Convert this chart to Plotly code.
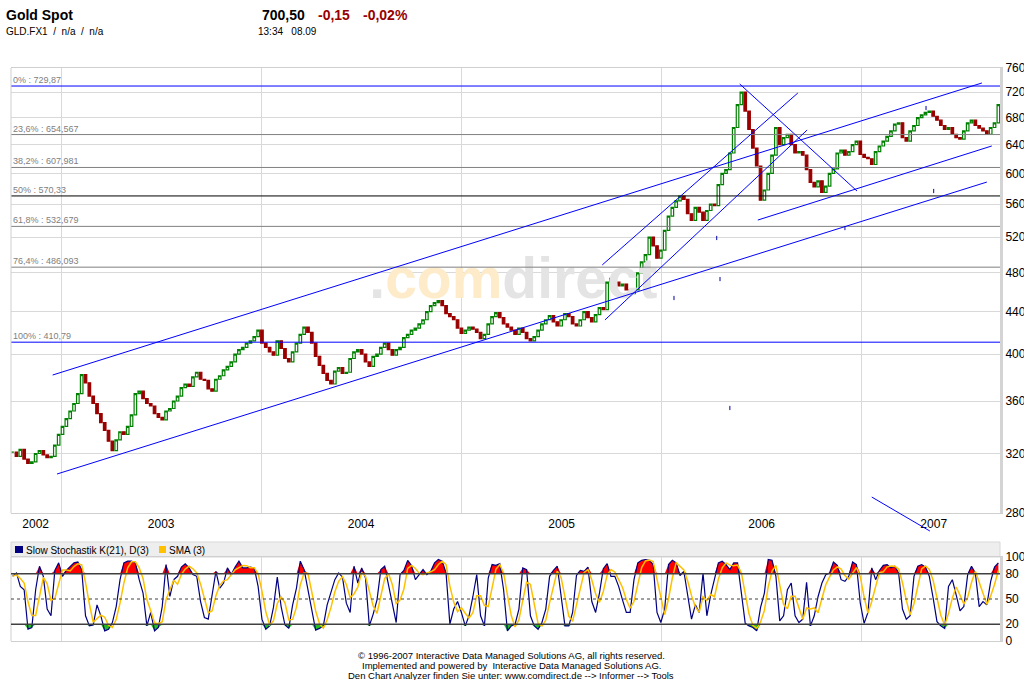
import numpy as np
import pandas as pd
import plotly.graph_objects as go

# ---------------- data ----------------
first_week = "2002-10-04"
closes = [
    321, 318, 323, 316, 313, 314, 320, 322, 319, 317,
    318, 326, 334, 340, 346, 352, 358, 366, 382, 375,
    364, 358, 350, 343, 337, 329, 322, 330, 336, 334,
    340, 349, 366, 368, 362, 358, 356, 350, 347, 345,
    352, 354, 360, 364, 371, 374, 372, 380, 384, 378,
    377, 370, 368, 378, 381, 386, 389, 393, 400, 404,
    406, 410, 412, 416, 422, 410, 406, 402, 399, 412,
    405, 396, 393, 402, 410, 418, 425, 420, 410, 398,
    390, 383, 377, 374, 385, 388, 383, 384, 396, 402,
    404, 400, 393, 389, 398, 400, 406, 410, 404, 399,
    404, 406, 415, 418, 422, 424, 428, 432, 440, 446,
    449, 451, 446, 438, 435, 432, 424, 419, 422, 425,
    423, 420, 414, 418, 428, 435, 439, 434, 428, 425,
    422, 418, 424, 420, 414, 412, 416, 422, 428, 432,
    436, 430, 426, 432, 438, 435, 428, 426, 432, 440,
    434, 430, 437, 444, 442, 470, 474, 470, 466, 468,
    462, 458, 462, 480, 492, 500, 520, 510, 496, 505,
    528, 545, 556, 564, 570, 566, 548, 540, 556, 550,
    540, 552, 560, 558, 585, 600, 605, 628, 665, 700,
    720, 690, 662, 635, 610, 565, 578, 600, 625, 665,
    640, 650, 655, 640, 628, 630, 625, 605, 588, 582,
    590, 575, 583, 600, 606, 628, 632, 625, 630, 640,
    645, 626, 622, 620, 612, 630, 638, 645, 652, 660,
    670, 672, 650, 645, 660, 668, 680, 684, 688, 690,
    682, 676, 668, 662, 665, 655, 650, 648, 660, 672,
    676, 668, 664, 660, 655, 665, 672, 700,
]
stoch_k = [
    77, 81, 65, 61, 14, 16, 61, 89, 77, 38,
    30, 84, 93, 77, 84, 89, 93, 94, 85, 30,
    18, 19, 43, 30, 12, 14, 22, 41, 73, 93,
    95, 95, 93, 73, 57, 18, 34, 12, 16, 41,
    91, 53, 73, 77, 88, 92, 87, 79, 77, 47,
    28, 26, 53, 83, 63, 69, 87, 79, 88, 95,
    87, 87, 88, 87, 65, 26, 14, 18, 40, 76,
    41, 19, 15, 43, 63, 95, 85, 61, 34, 13,
    15, 18, 43, 59, 73, 81, 76, 45, 34, 89,
    69, 87, 75, 18, 32, 49, 85, 89, 67, 45,
    22, 79, 84, 96, 90, 73, 79, 85, 79, 83,
    93, 97, 95, 81, 20, 38, 47, 34, 18, 30,
    53, 79, 30, 18, 75, 91, 90, 92, 61, 12,
    18, 20, 38, 87, 85, 30, 18, 14, 22, 38,
    77, 84, 89, 53, 18, 18, 34, 78, 84, 83,
    88, 47, 34, 57, 86, 92, 77, 77, 65, 49,
    34, 34, 73, 93, 96, 97, 96, 91, 34, 22,
    38, 91, 96, 93, 78, 83, 53, 26, 43, 34,
    81, 30, 55, 73, 93, 95, 91, 85, 93, 93,
    57, 21, 18, 16, 12, 40, 57, 97, 96, 77,
    24, 30, 61, 69, 30, 22, 26, 70, 18, 30,
    53, 69, 79, 81, 94, 90, 73, 71, 77, 94,
    91, 45, 21, 34, 87, 73, 84, 90, 91, 87,
    89, 81, 38, 26, 30, 77, 89, 91, 88, 77,
    51, 23, 18, 15, 65, 73, 55, 36, 41, 79,
    89, 81, 41, 47, 43, 71, 88, 93,
]
fib_levels = [729.87, 654.567, 607.981, 570.33, 532.679, 486.093, 410.79]
fib_texts = ["0% : 729,87", "23,6% : 654,567", "38,2% : 607,981", "50% : 570,33",
             "61,8% : 532,679", "76,4% : 486,093", "100% : 410,79"]
trend_start_dates = ["2002-12-16", "2002-12-24", "2005-09-14", "2005-09-19", "2006-05-23", "2006-06-25"]
trend_start_prices = [381.6, 305.6, 488.5, 431.8, 733.2, 540.3]
trend_end_dates = ["2007-08-08", "2007-08-17", "2006-09-06", "2006-09-23", "2006-12-23", "2007-08-26"]
trend_end_prices = [734.9, 588.4, 718.5, 661.3, 576.7, 638.0]
outside_line_dates = ["2007-01-19", "2007-05-05"]
outside_line_prices = [290.2, 268.9]
stray_dates = ["2006-04-11", "2006-04-17", "2006-01-23", "2006-05-05", "2007-05-12", "2006-12-01", "2007-04-28"]
stray_prices = [519.0, 473.3, 453.6, 354.4, 576.7, 530.7, 694.7]
price_ticks = [280, 320, 360, 400, 440, 480, 520, 560, 600, 640, 680, 720, 760]
stoch_ticks = [0, 20, 50, 80, 100]
year_labels = ["2002", "2003", "2004", "2005", "2006", "2007"]
year_label_dates = ["2002-11-15", "2003-07-02", "2004-07-01", "2005-07-02", "2006-07-02", "2007-05-12"]
year_starts = ["2003-01-01", "2004-01-01", "2005-01-01", "2006-01-01", "2007-01-01"]
x_range = ["2002-10-01", "2007-09-10"]
y_range = [280, 760]
watermark_date = "2005-04-05"
watermark_price = 468

# ---------------- derived ----------------
dates = pd.date_range(first_week, periods=len(closes), freq="7D")
close_arr = np.array(closes, dtype=float)
open_arr = np.concatenate([[close_arr[0]], close_arr[:-1]])
high_arr = np.maximum(open_arr, close_arr)
low_arr = np.minimum(open_arr, close_arr)
k_arr = np.array(stoch_k, dtype=float)
d_arr = pd.Series(k_arr).rolling(3, min_periods=1).mean().values

FONT = "Liberation Sans, Arial, sans-serif"
L, R, T, B = 11, 1000, 68, 641


def px_x(px):
    return (px - L) / (R - L)


def px_y(py):
    return (B - py) / (B - T)


main_dom = [px_y(513), 1.0]
stoch_dom = [0.0, px_y(557)]


def price_to_paper(p):
    lo, hi = np.log10(y_range[0]), np.log10(y_range[1])
    return main_dom[0] + (np.log10(p) - lo) / (hi - lo) * (main_dom[1] - main_dom[0])


fig = go.Figure()

# watermark (below candles)
fig.add_trace(go.Scatter(
    x=[watermark_date], y=[watermark_price], mode="text",
    text=['<b><span style="color:#e4e4e4">.</span><span style="color:#fdebc9">com</span>'
          '<span style="color:#e4e4e4">direct</span></b>'],
    textfont=dict(size=57, family=FONT), textposition="middle center",
    hoverinfo="skip", showlegend=False, xaxis="x", yaxis="y"))

# fibonacci levels
fib_colors = ["#0000ff", "#808080", "#808080", "#000000", "#808080", "#808080", "#0000ff"]
for lvl, col in zip(fib_levels, fib_colors):
    fig.add_trace(go.Scatter(x=x_range, y=[lvl, lvl], mode="lines",
                             line=dict(color=col, width=1), hoverinfo="skip",
                             showlegend=False, xaxis="x", yaxis="y"))

# candles
fig.add_trace(go.Candlestick(
    x=dates, open=open_arr, high=high_arr, low=low_arr, close=close_arr,
    increasing=dict(line=dict(color="#008000", width=1.2), fillcolor="#ffffff"),
    decreasing=dict(line=dict(color="#990000", width=1.2), fillcolor="#990000"),
    whiskerwidth=0, showlegend=False, hoverinfo="skip", xaxis="x", yaxis="y"))

# trend lines
for xs, ys, xe, ye in zip(trend_start_dates, trend_start_prices, trend_end_dates, trend_end_prices):
    fig.add_trace(go.Scatter(x=[xs, xe], y=[ys, ye], mode="lines",
                             line=dict(color="#0000ff", width=1), hoverinfo="skip",
                             showlegend=False, xaxis="x", yaxis="y"))

fig.add_trace(go.Scatter(x=stray_dates, y=stray_prices, mode="markers",
                         marker=dict(symbol="line-ns", size=3, line=dict(color="#0000aa", width=1)),
                         hoverinfo="skip", showlegend=False, xaxis="x", yaxis="y"))

# stochastic panel
fig.add_trace(go.Scatter(x=dates, y=np.full(len(k_arr), 80.0), mode="lines", line=dict(width=0),
                         hoverinfo="skip", showlegend=False, xaxis="x2", yaxis="y2"))
fig.add_trace(go.Scatter(x=dates, y=np.maximum(k_arr, 80), mode="lines", line=dict(width=0),
                         fill="tonexty", fillcolor="#ff0000",
                         hoverinfo="skip", showlegend=False, xaxis="x2", yaxis="y2"))
fig.add_trace(go.Scatter(x=dates, y=np.full(len(k_arr), 20.0), mode="lines", line=dict(width=0),
                         hoverinfo="skip", showlegend=False, xaxis="x2", yaxis="y2"))
fig.add_trace(go.Scatter(x=dates, y=np.minimum(k_arr, 20), mode="lines", line=dict(width=0),
                         fill="tonexty", fillcolor="#22bb22",
                         hoverinfo="skip", showlegend=False, xaxis="x2", yaxis="y2"))
fig.add_trace(go.Scatter(x=dates, y=k_arr, mode="lines", line=dict(color="#000080", width=1.2),
                         hoverinfo="skip", showlegend=False, xaxis="x2", yaxis="y2"))
fig.add_trace(go.Scatter(x=dates, y=d_arr, mode="lines", line=dict(color="#ffc000", width=1.5),
                         hoverinfo="skip", showlegend=False, xaxis="x2", yaxis="y2"))

grid = "#d9d9d9"
border = "#cfcfcf"
axis_font = dict(family=FONT, size=12, color="#000000")

fig.update_layout(
    width=1024, height=680,
    margin=dict(l=L, r=1024 - R, t=T, b=680 - B),
    paper_bgcolor="#ffffff", plot_bgcolor="rgba(0,0,0,0)",
    hovermode=False, showlegend=False, boxgap=0.05,
    font=dict(family=FONT, size=12, color="#000000"),
    xaxis=dict(type="date", range=x_range, domain=[0, 1], anchor="y",
               tickmode="array", tickvals=year_label_dates, ticktext=year_labels,
               showgrid=False, ticks="", tickfont=axis_font,
               minor=dict(tickmode="array", tickvals=year_starts, showgrid=True,
                          gridcolor=grid, gridwidth=1, ticks=""),
               showline=True, linecolor=border, linewidth=1, mirror=True,
               rangeslider=dict(visible=False), zeroline=False, automargin=False),
    yaxis=dict(type="log", range=[np.log10(y_range[0]), np.log10(y_range[1])],
               domain=main_dom, anchor="x", side="right",
               tickmode="array", tickvals=price_ticks, ticktext=[str(v) for v in price_ticks],
               showgrid=True, gridcolor=grid, gridwidth=1, ticks="", tickfont=axis_font,
               showline=True, linecolor="#d4d4d4", linewidth=3, zeroline=False, automargin=False),
    xaxis2=dict(type="date", matches="x", domain=[0, 1], anchor="y2",
                showticklabels=False, showgrid=False, ticks="",
                tickmode="array", tickvals=year_label_dates,
                minor=dict(tickmode="array", tickvals=year_starts, showgrid=True,
                           gridcolor=grid, gridwidth=1, ticks=""),
                showline=True, linecolor=border, linewidth=1, mirror=True,
                zeroline=False, automargin=False),
    yaxis2=dict(range=[0, 100], domain=stoch_dom, anchor="x2", side="right",
                tickmode="array", tickvals=stoch_ticks, showgrid=False, ticks="",
                tickfont=axis_font, showline=True, linecolor="#d4d4d4", linewidth=3,
                zeroline=False, automargin=False),
)

shapes = []
# left borders
shapes.append(dict(type="line", xref="paper", yref="paper", x0=0, x1=0, y0=main_dom[0], y1=main_dom[1],
                   line=dict(color=border, width=1)))
shapes.append(dict(type="line", xref="paper", yref="paper", x0=0, x1=0, y0=stoch_dom[0], y1=stoch_dom[1],
                   line=dict(color=border, width=1)))
# stochastic reference lines
for lvl, dash, w in [(80, "solid", 1.5), (20, "solid", 1.5), (50, "dot", 1)]:
    shapes.append(dict(type="line", xref="paper", yref="y2", x0=0, x1=1, y0=lvl, y1=lvl,
                       line=dict(color="#404040", width=w, dash=dash)))
# legend header bar
shapes.append(dict(type="rect", xref="paper", yref="paper", x0=0, x1=1, y0=px_y(557), y1=px_y(542),
                   fillcolor="#eeeeee", line=dict(color="#d8d8d8", width=1), layer="below"))
shapes.append(dict(type="rect", xref="paper", yref="paper", x0=px_x(15), x1=px_x(23), y0=px_y(553), y1=px_y(546),
                   fillcolor="#000080", line=dict(width=0)))
shapes.append(dict(type="rect", xref="paper", yref="paper", x0=px_x(159), x1=px_x(166), y0=px_y(553), y1=px_y(546),
                   fillcolor="#ffc000", line=dict(width=0)))
# trend line running below the price axis
shapes.append(dict(type="line", xref="x", yref="paper",
                   x0=outside_line_dates[0], x1=outside_line_dates[1],
                   y0=price_to_paper(outside_line_prices[0]), y1=price_to_paper(outside_line_prices[1]),
                   line=dict(color="#0000ff", width=1)))
fig.update_layout(shapes=shapes)

ann = []
for lvl, txt in zip(fib_levels, fib_texts):
    ann.append(dict(x=px_x(12), xref="paper", y=np.log10(lvl), yref="y", text=txt,
                    xanchor="left", yanchor="bottom", showarrow=False, borderpad=0,
                    font=dict(family=FONT, size=9, color="#808080")))


def label(px, py, text, size, color="#000000", xanchor="left"):
    ann.append(dict(x=px_x(px), y=px_y(py), xref="paper", yref="paper", text=text,
                    xanchor=xanchor, yanchor="middle", showarrow=False, borderpad=0,
                    font=dict(family=FONT, size=size, color=color)))


label(5, 15, "<b>Gold Spot</b>", 14)
label(5, 32, "GLD.FX1  /  n/a  /  n/a", 10)
label(261, 15, "<b>700,50</b>", 14)
label(317, 15, "<b>-0,15</b>", 14, "#990000")
label(362, 15, "<b>-0,02%</b>", 14, "#990000")
label(257, 32, "13:34   08.09", 10)
label(25, 550, "Slow Stochastik K(21), D(3)", 10)
label(168, 550, "SMA (3)", 10)
label(511, 655, "© 1996-2007 Interactive Data Managed Solutions AG, all rights reserved.", 9.5, "#000000", "center")
label(511, 665, "Implemented and powered by  Interactive Data Managed Solutions AG.", 9.5, "#000000", "center")
label(511, 675, "Den Chart Analyzer finden Sie unter: www.comdirect.de --> Informer --> Tools", 9.5, "#000000", "center")
fig.update_layout(annotations=ann)

fig.write_html("out.html", config={"displayModeBar": False},
               post_script="document.body.style.margin='0px';")
